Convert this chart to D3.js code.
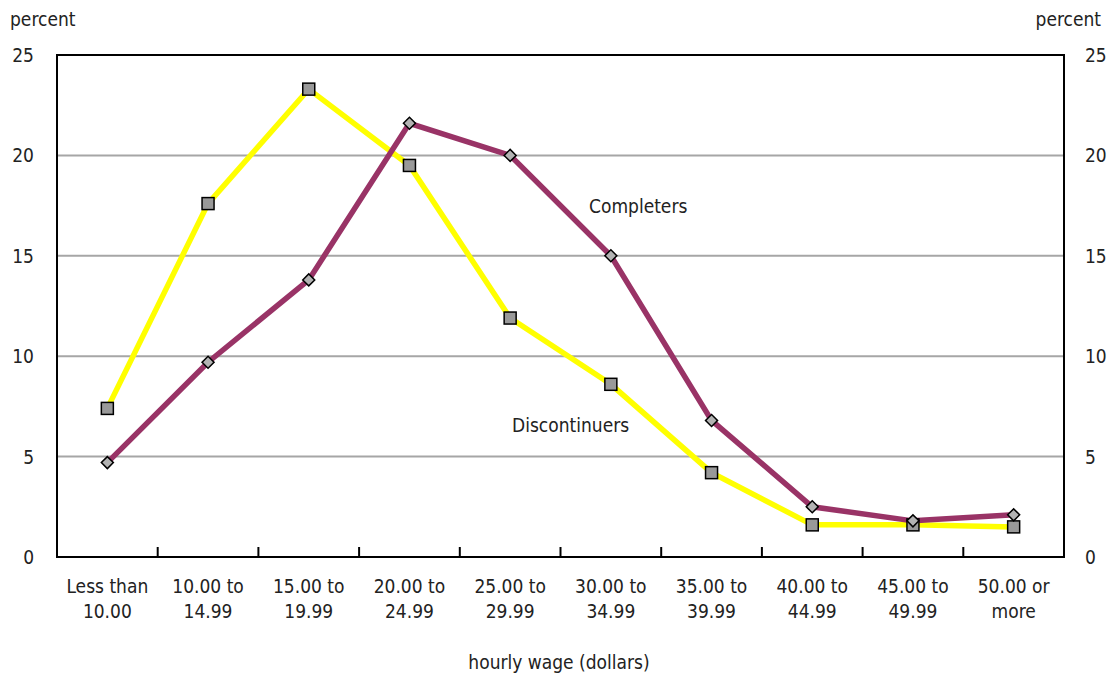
<!DOCTYPE html>
<html>
<head>
    <title></title>
    <meta charset="utf-8" />
    <style>
        body { margin: 0; background: #fff; }
        text { font-family: "Liberation Sans Narrow", "Arial Narrow", "DejaVu Sans Condensed", sans-serif; fill: #222; }
    </style>
    <script src="https://d3js.org/d3.v7.min.js"></script>
</head>
<body>

<svg id="svg"></svg>

<script>

let categories = [
    ["Less than", "10.00"], ["10.00 to", "14.99"], ["15.00 to", "19.99"],
    ["20.00 to", "24.99"], ["25.00 to", "29.99"], ["30.00 to", "34.99"],
    ["35.00 to", "39.99"], ["40.00 to", "44.99"], ["45.00 to", "49.99"],
    ["50.00 or", "more"]
];
let completers    = [4.7, 9.7, 13.8, 21.6, 20.0, 15.0, 6.8, 2.5, 1.8, 2.1];
let discontinuers = [7.4, 17.6, 23.3, 19.5, 11.9, 8.6, 4.2, 1.6, 1.6, 1.5];
let yTicks = [0, 5, 10, 15, 20, 25];

let realW = 1108;
let realH = 673;
let plotL = 57, plotR = 1064, plotT = 55, plotB = 557;

let svg = d3.select("#svg")
    .attr("width", realW)
    .attr("height", realH);

let x = d3.scaleBand()
    .domain(d3.range(categories.length))
    .range([plotL, plotR]);

let y = d3.scaleLinear()
    .domain([0, 25])
    .range([plotB, plotT]);

// gridlines
svg.selectAll(".grid")
    .data(yTicks.filter(d => d > 0 && d < 25))
    .enter()
    .append("line")
    .attr("x1", plotL).attr("x2", plotR)
    .attr("y1", d => y(d)).attr("y2", d => y(d))
    .attr("stroke", "#a6a6a6")
    .attr("stroke-width", 2);

// frame
svg.append("rect")
    .attr("x", plotL).attr("y", plotT)
    .attr("width", plotR - plotL).attr("height", plotB - plotT)
    .attr("fill", "none")
    .attr("stroke", "#000")
    .attr("stroke-width", 2);

// ticks between categories
svg.selectAll(".xtick")
    .data(d3.range(1, categories.length))
    .enter()
    .append("line")
    .attr("x1", d => x(d)).attr("x2", d => x(d))
    .attr("y1", plotB).attr("y2", plotB - 10)
    .attr("stroke", "#000")
    .attr("stroke-width", 2);

// y labels both sides
svg.selectAll(".ylabL")
    .data(yTicks)
    .enter()
    .append("text")
    .attr("x", 34)
    .attr("y", d => y(d) + 7)
    .attr("text-anchor", "end")
    .attr("font-size", 19)
    .text(d => d);

svg.selectAll(".ylabR")
    .data(yTicks)
    .enter()
    .append("text")
    .attr("x", 1085)
    .attr("y", d => y(d) + 7)
    .attr("text-anchor", "start")
    .attr("font-size", 19)
    .text(d => d);

svg.append("text").attr("x", 10).attr("y", 26).attr("font-size", 19).text("percent");
svg.append("text").attr("x", 1101).attr("y", 26).attr("font-size", 19)
    .attr("text-anchor", "end").text("percent");

// category labels
let catG = svg.selectAll(".cat")
    .data(categories)
    .enter()
    .append("text")
    .attr("text-anchor", "middle")
    .attr("font-size", 19);

catG.append("tspan")
    .attr("x", (d, i) => x(i) + x.bandwidth() / 2)
    .attr("y", 593)
    .text(d => d[0]);
catG.append("tspan")
    .attr("x", (d, i) => x(i) + x.bandwidth() / 2)
    .attr("y", 618)
    .text(d => d[1]);

svg.append("text")
    .attr("x", 559).attr("y", 669)
    .attr("text-anchor", "middle")
    .attr("font-size", 19)
    .text("hourly wage (dollars)");

let line = d3.line()
    .x((d, i) => x(i) + x.bandwidth() / 2)
    .y(d => y(d));

svg.append("path")
    .datum(discontinuers)
    .attr("d", line)
    .attr("fill", "none")
    .attr("stroke", "#ffff00")
    .attr("stroke-width", 5.5);

svg.append("path")
    .datum(completers)
    .attr("d", line)
    .attr("fill", "none")
    .attr("stroke", "#993366")
    .attr("stroke-width", 5.5);

// markers
svg.selectAll(".sq")
    .data(discontinuers)
    .enter()
    .append("rect")
    .attr("x", (d, i) => x(i) + x.bandwidth() / 2 - 6)
    .attr("y", d => y(d) - 6)
    .attr("width", 12).attr("height", 12)
    .attr("fill", "#999")
    .attr("stroke", "#000")
    .attr("stroke-width", 1.5);

svg.selectAll(".dia")
    .data(completers)
    .enter()
    .append("path")
    .attr("d", d3.symbol().type(d3.symbolSquare).size(72))
    .attr("transform", (d, i) => "translate(" + (x(i) + x.bandwidth() / 2) + "," + y(d) + ") rotate(45)")
    .attr("fill", "#b3b3b3")
    .attr("stroke", "#000")
    .attr("stroke-width", 1.5);

// series labels
svg.append("text").attr("x", 589).attr("y", 213).attr("font-size", 19).text("Completers");
svg.append("text").attr("x", 512).attr("y", 432).attr("font-size", 19).text("Discontinuers");

</script>

</body>
</html>
